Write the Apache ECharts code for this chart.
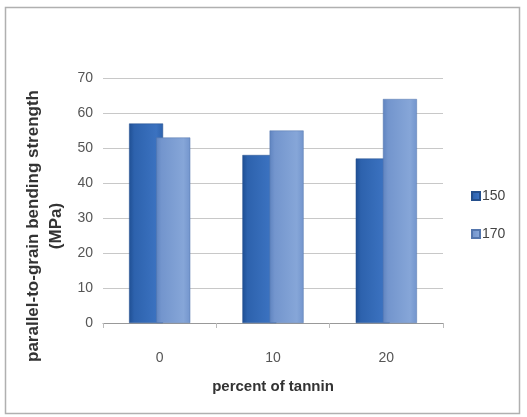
<!DOCTYPE html>
<html>
<head>
<meta charset="utf-8">
<script src="https://cdn.jsdelivr.net/npm/echarts@6/dist/echarts.min.js"></script>
<style>
  html, body { margin: 0; padding: 0; background: #fff; }
  #chart { width: 527px; height: 417px; }
</style>
</head>
<body>
<div id="chart"></div>
<script>
// Bending strength by tannin content, two pressing temperatures
const categories = ['0', '10', '20'];
const series150 = [57, 48, 47];
const series170 = [53, 55, 64];
const seriesNames = ['150', '170'];
const yTicks = { min: 0, max: 70, interval: 10 };
const yTitle = 'parallel-to-grain bending strength\n(MPa)';
const xTitle = 'percent of tannin';

const chart = echarts.init(document.getElementById('chart'));

function barGradient(dark, mid, light) {
  return new echarts.graphic.LinearGradient(0, 0, 1, 0, [
    { offset: 0, color: dark },
    { offset: 0.15, color: mid },
    { offset: 0.8, color: light },
    { offset: 1, color: mid }
  ]);
}

const font = '"Liberation Sans", Arial, sans-serif';

chart.setOption({
  animation: false,
  backgroundColor: '#fff',
  graphic: [
    {
      type: 'rect',
      shape: { x: 5.5, y: 7.5, width: 514, height: 406 },
      style: { fill: 'none', stroke: '#b0b0b0', lineWidth: 1.5 },
      silent: true
    },
    {
      // vertical axis title, placed by hand to sit left of the tick labels
      type: 'text',
      x: 45,
      y: 226,
      rotation: Math.PI / 2,
      silent: true,
      style: {
        text: yTitle,
        align: 'center',
        verticalAlign: 'middle',
        textAlign: 'center',
        textVerticalAlign: 'middle',
        fontFamily: font,
        fontSize: 17,
        fontWeight: 'bold',
        lineHeight: 23,
        fill: '#333'
      }
    }
  ],
  grid: { left: 103, right: 84, top: 78, bottom: 94 },
  legend: {
    orient: 'vertical',
    left: 466,
    top: 184,
    itemGap: 24,
    itemWidth: 8,
    itemHeight: 8,
    icon: 'rect',
    textStyle: { fontFamily: font, fontSize: 14, color: '#444', padding: [0, 0, 0, -3] },
    data: seriesNames
  },
  xAxis: {
    type: 'category',
    data: categories,
    name: xTitle,
    nameLocation: 'middle',
    nameGap: 56,
    nameTextStyle: { fontFamily: font, fontSize: 15, fontWeight: 'bold', color: '#333' },
    axisLine: { lineStyle: { color: '#999' } },
    axisTick: { show: true, length: 5, lineStyle: { color: '#bbb' } },
    axisLabel: { fontFamily: font, fontSize: 14, color: '#555', margin: 28 }
  },
  yAxis: {
    type: 'value',
    min: yTicks.min,
    max: yTicks.max,
    interval: yTicks.interval,
    axisLine: { show: false },
    axisTick: { show: false },
    axisLabel: { fontFamily: font, fontSize: 14, color: '#555', margin: 10 },
    splitLine: { lineStyle: { color: '#c8c8c8' } }
  },
  series: [
    {
      name: seriesNames[0],
      type: 'bar',
      data: series150,
      barWidth: 34,
      barGap: '-20%',
      itemStyle: {
        color: barGradient('#1f4f93', '#2d62ad', '#3b72c0'),
        borderColor: '#244f8c',
        borderWidth: 0.5
      }
    },
    {
      name: seriesNames[1],
      type: 'bar',
      data: series170,
      barWidth: 34,
      itemStyle: {
        color: barGradient('#5f84c0', '#7395cd', '#86a6d8'),
        borderColor: '#5476ad',
        borderWidth: 0.5
      }
    }
  ]
});
</script>
</body>
</html>
